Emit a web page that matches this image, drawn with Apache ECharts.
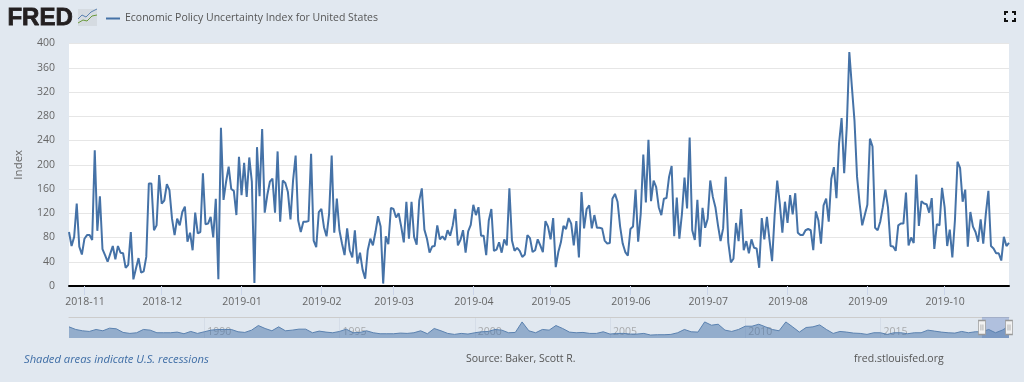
<!DOCTYPE html>
<html>
<head>
<meta charset="utf-8">
<script src="https://cdn.jsdelivr.net/npm/echarts@6/dist/echarts.min.js"></script>
<style>
html,body{margin:0;padding:0;background:#e1e8f0;}
#chart{width:1024px;height:382px;}
</style>
</head>
<body>
<div id="chart"></div>
<script>
var seriesName = 'Economic Policy Uncertainty Index for United States';
var startDay = Date.UTC(2018, 9, 26);

// daily index
var values = [
89,66,81,136,65,52,78,84,84,76,224,91,148,61,51,40,53,66,44,66,55,54,30,35,89,11,29,46,22,24,
48,169,169,92,100,183,136,141,168,158,111,84,111,100,122,131,73,88,59,121,87,89,186,102,103,114,80,144,11,261,
142,172,197,160,157,117,213,150,203,147,212,172,5,229,148,259,121,150,172,177,121,222,106,174,170,155,110,174,215,108,
89,106,106,107,218,75,64,122,127,97,82,119,215,88,144,92,70,51,95,59,47,92,37,55,27,12,59,78,67,89,
115,98,4,82,69,129,127,113,120,98,72,139,78,139,81,68,141,161,93,78,55,65,66,100,77,82,76,92,83,100,
127,67,76,92,55,90,101,134,117,130,83,83,51,108,127,58,60,72,55,77,67,161,75,58,63,58,48,52,84,79,
56,59,77,67,56,107,98,77,112,31,56,72,99,94,112,103,67,107,47,155,95,127,133,95,117,96,96,95,75,70,
71,144,152,139,98,70,56,50,94,98,159,73,119,217,138,241,140,174,163,130,117,144,145,180,198,82,146,78,119,179,
128,245,92,76,142,65,129,96,111,174,147,130,100,74,95,180,72,39,45,104,74,127,59,74,54,77,63,62,30,112,
77,114,76,41,117,174,136,88,139,104,150,118,153,88,84,84,92,94,92,59,123,108,70,133,144,106,177,196,145,235,
277,186,262,386,328,273,180,136,100,117,134,243,230,96,92,106,130,159,130,66,65,58,100,103,103,154,67,80,71,184,
99,140,136,135,121,145,61,102,100,162,130,66,93,47,108,205,195,139,159,65,122,98,89,73,110,70,119,157,66,62,
54,54,42,81,66,71
];

// overview strip, one value per quarter from 1985
var navStartYear = 1985;
var navValues = [
136,104,88,80,104,88,120,112,68,56,64,104,96,64,64,64,72,52,80,56,76,96,104,104,104,76,68,96,152,116,
88,136,88,96,108,108,64,84,72,64,80,108,64,68,88,64,52,52,52,60,56,64,88,52,116,88,56,44,56,48,
64,76,80,104,96,64,68,196,88,64,104,96,152,116,72,64,68,56,56,76,48,56,56,48,48,56,36,40,40,44,
64,104,76,72,196,156,168,96,80,104,144,144,168,136,104,88,196,136,72,128,136,160,104,56,80,72,60,56,44,64,
64,44,64,64,52,64,64,96,84,72,64,60,80,64,76,76,104,64,96,144
];
var navYears = [];
for (var q = 0; q < navValues.length; q++) {
    navYears.push((navStartYear + Math.floor(q / 4)) + '-Q' + (q % 4 + 1));
}
var selStart = 135, selEnd = 139;

var days = [];
for (var d = 0; d < values.length; d++) {
    days.push(new Date(startDay + d * 86400000).toISOString().slice(0, 10));
}
function isMonthStart(i, v) { return v.slice(8) == '01'; }
function isFiveYear(i, v) {
    var y = parseInt(v);
    return v.slice(5) == 'Q1' && y % 5 == 0 && y > navStartYear;
}

var textFont = '"Open Sans", sans-serif';
var handle = 'path://M0 0H7V14H0Z M2.5 4V10 M4.5 4V10';

function corner(points) {
    return {type: 'polyline', shape: {points: points}, style: {stroke: '#111', fill: null, lineWidth: 2}};
}

var myChart = echarts.init(document.getElementById('chart'));
myChart.setOption({
    animation: false,
    backgroundColor: '#e1e8f0',
    textStyle: {fontFamily: textFont},
    legend: {
        left: 101, top: 8,
        data: [{name: seriesName, icon: 'rect'}],
        itemWidth: 14, itemHeight: 2, itemGap: 5,
        textStyle: {color: '#555', fontSize: 10.5, fontFamily: textFont}
    },
    grid: [
        {left: 69, right: 15, top: 43.5, height: 242.5, show: true, backgroundColor: '#fff', borderWidth: 0},
        {left: 69, right: 15, top: 317, height: 21}
    ],
    xAxis: [
        {
            type: 'category', gridIndex: 0, data: days, boundaryGap: false,
            axisLine: {lineStyle: {color: '#000', width: 2}},
            axisTick: {interval: isMonthStart, length: 9, lineStyle: {color: '#ccd6eb'}},
            axisLabel: {
                interval: isMonthStart, color: '#666', fontSize: 10.5, margin: 11,
                padding: [0, 0, 0, 1], hideOverlap: false,
                formatter: function (v) { return v.slice(0, 7); }
            }
        },
        {
            type: 'category', gridIndex: 1, data: navYears, boundaryGap: false,
            axisLine: {show: false},
            axisTick: {show: false},
            splitLine: {show: true, interval: isFiveYear, lineStyle: {color: '#d5dde8'}},
            axisLabel: {
                interval: isFiveYear, inside: true, align: 'left', margin: 0, padding: [0, 0, 0, 3],
                color: 'rgba(150,150,150,0.75)', fontSize: 10.5,
                formatter: function (v) { return v.slice(0, 4); }
            }
        },
        {
            type: 'category', gridIndex: 1, position: 'top', data: navYears, boundaryGap: false,
            axisLine: {lineStyle: {color: '#ccc', width: 1}},
            axisTick: {show: false}, axisLabel: {show: false}
        }
    ],
    yAxis: [
        {
            type: 'value', gridIndex: 0, min: 0, max: 400, interval: 40,
            name: 'Index', nameLocation: 'middle', nameGap: 44,
            nameTextStyle: {color: '#666', fontSize: 11.5},
            axisLine: {show: false}, axisTick: {show: false},
            axisLabel: {color: '#666', fontSize: 10.5, margin: 14, padding: [4, 0, 0, 0]},
            splitLine: {lineStyle: {color: '#e6e6e6'}}
        },
        {
            type: 'value', gridIndex: 1, min: 0, max: 256,
            axisLine: {show: false}, axisTick: {show: false},
            axisLabel: {show: false}, splitLine: {show: false}
        }
    ],
    series: [
        {
            name: seriesName, type: 'line', xAxisIndex: 0, yAxisIndex: 0, data: values,
            showSymbol: false, symbol: 'none',
            lineStyle: {color: '#4572a7', width: 2}, itemStyle: {color: '#4572a7'}
        },
        {
            name: 'overview', type: 'line', xAxisIndex: 1, yAxisIndex: 1, data: navValues,
            showSymbol: false, symbol: 'none',
            lineStyle: {color: '#5b82b0', width: 1},
            areaStyle: {color: '#4572a7', opacity: 0.5},
            markArea: {
                silent: true, itemStyle: {color: 'rgba(102,133,194,0.4)'},
                data: [[{xAxis: selStart}, {xAxis: selEnd}]]
            },
            markPoint: {
                silent: true, symbol: handle, symbolSize: [7, 14],
                itemStyle: {color: '#f2f2f2', borderColor: '#999', borderWidth: 1},
                label: {show: false},
                data: [{coord: [selStart, 128]}, {coord: [selEnd, 128]}]
            }
        }
    ],
    graphic: [
        {type: 'text', left: 7, top: 6, style: {text: 'FRED', fill: '#231f20', stroke: '#231f20', lineWidth: 0.8, font: 'bold 24px "Liberation Sans", sans-serif'}},
        {type: 'rect', shape: {x: 78, y: 9, width: 19, height: 17}, style: {fill: '#d5dbe1'}},
        {type: 'polyline', shape: {points: [[78, 23], [83, 20], [87, 21], [92, 16], [97, 15]]}, style: {stroke: '#6a9a3c', fill: null, lineWidth: 1}},
        {type: 'polyline', shape: {points: [[78, 19], [82, 15], [86, 17], [91, 12], [97, 9]]}, style: {stroke: '#5b82b0', fill: null, lineWidth: 1}},
        {type: 'text', left: 24, top: 354, style: {text: 'Shaded areas indicate U.S. recessions', fill: '#3f6ea6', font: 'italic 11.2px "Open Sans", sans-serif'}},
        {type: 'text', left: 466, top: 354, style: {text: 'Source: Baker, Scott R.', fill: '#555', font: '10.5px "Open Sans", sans-serif'}},
        {type: 'text', left: 854, top: 354, style: {text: 'fred.stlouisfed.org', fill: '#555', font: '10.5px "Open Sans", sans-serif'}},
        corner([[1005, 15], [1005, 12], [1008, 12]]),
        corner([[1012, 12], [1015, 12], [1015, 15]]),
        corner([[1005, 18], [1005, 21], [1008, 21]]),
        corner([[1012, 21], [1015, 21], [1015, 18]])
    ]
});
</script>
</body>
</html>
